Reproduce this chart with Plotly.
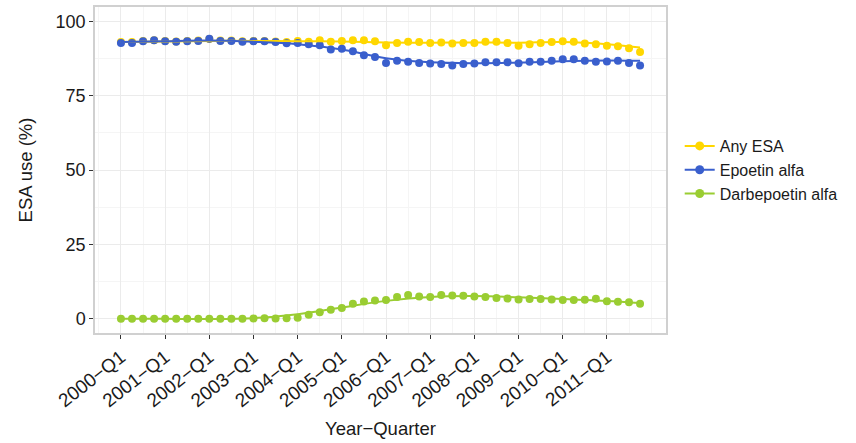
import plotly.graph_objects as go

years = list(range(2000, 2012))
quarters = [f"{y}\u2212Q{q}" for y in years for q in range(1, 5)]

any_esa = [93.0, 93.0, 93.4, 93.6, 93.4, 93.2, 93.4, 93.5, 94.0, 93.5,
           93.5, 93.3, 93.4, 93.4, 93.2, 93.0, 93.4, 93.1, 93.6, 93.1,
           93.4, 93.6, 93.6, 93.3, 91.9, 92.7, 93.1, 93.0, 92.7, 92.9,
           92.5, 92.7, 92.7, 93.1, 93.1, 92.7, 91.8, 92.3, 92.7, 93.0,
           93.3, 93.1, 92.5, 92.3, 91.8, 91.6, 90.9, 89.7]
epoetin = [92.7, 92.7, 93.3, 93.6, 93.3, 93.1, 93.3, 93.4, 94.1, 93.4,
           93.4, 93.1, 93.3, 93.3, 93.0, 92.6, 92.7, 92.3, 91.9, 90.5,
           90.8, 89.9, 88.6, 88.0, 86.0, 86.7, 86.4, 86.0, 85.8, 85.6,
           85.1, 85.6, 85.8, 86.2, 86.2, 86.2, 85.9, 86.4, 86.4, 86.7,
           87.2, 87.2, 86.7, 86.4, 86.5, 86.7, 86.0, 85.1]
darbepoetin = [0.0, 0.0, 0.0, 0.0, 0.0, 0.0, 0.0, 0.0, 0.0, 0.0,
               0.0, 0.0, 0.1, 0.2, 0.1, 0.2, 0.3, 1.3, 2.2, 3.0,
               3.6, 5.0, 5.8, 6.1, 6.3, 7.3, 8.0, 7.5, 7.3, 8.0,
               7.8, 7.7, 7.5, 7.3, 7.0, 6.8, 6.5, 6.6, 6.6, 6.5,
               6.3, 6.3, 6.4, 6.7, 5.9, 5.7, 5.5, 5.0]

# smoothed trend values read at yearly knots (quarter index)
smooth_idx = [0, 4, 8, 12, 16, 20, 24, 28, 32, 36, 40, 44, 47]
any_smooth = [93.0, 93.2, 93.4, 93.4, 93.3, 93.2, 92.9, 92.8, 92.9, 92.8, 93.0, 92.3, 91.2]
epo_smooth = [93.0, 93.3, 93.5, 93.1, 92.3, 90.5, 87.6, 86.2, 85.9, 86.1, 86.6, 86.8, 86.7]
darb_smooth = [0.0, 0.0, -0.1, 0.2, 1.5, 3.8, 6.0, 7.3, 7.6, 7.2, 6.6, 6.0, 5.3]

names = ["Any ESA", "Epoetin alfa", "Darbepoetin alfa"]
colors = ["#FFD700", "#3A5FCD", "#9ACD32"]
series = [any_esa, epoetin, darbepoetin]
smooths = [any_smooth, epo_smooth, darb_smooth]

x_idx = list(range(len(quarters)))
tick_pos = [i for i, q in enumerate(quarters) if q.endswith("Q1")]
tick_txt = [quarters[i] for i in tick_pos]

fig = go.Figure()
for name, col, ys in zip(names, colors, series):
    fig.add_trace(go.Scatter(x=x_idx, y=ys, mode="markers", name=name,
                             marker=dict(color=col, size=8), showlegend=False,
                             hovertext=quarters))
for name, col, ys in zip(names, colors, smooths):
    fig.add_trace(go.Scatter(x=smooth_idx, y=ys, mode="lines", name=name,
                             line=dict(color=col, width=2, shape="spline", smoothing=1.0),
                             showlegend=False))
for name, col in zip(names, colors):
    fig.add_trace(go.Scatter(x=[None], y=[None], mode="lines+markers", name=name,
                             line=dict(color=col, width=2),
                             marker=dict(color=col, size=9)))

fam = "Liberation Sans, Arial, sans-serif"
fig.update_layout(
    width=856, height=443,
    margin=dict(l=95, r=190, t=7, b=110, autoexpand=False),
    paper_bgcolor="white", plot_bgcolor="white",
    font=dict(family=fam, color="#1a1a1a"),
    legend=dict(x=1.024, y=0.5, xanchor="left", yanchor="middle",
                font=dict(size=16, color="#1a1a1a"), tracegroupgap=0,
                itemwidth=30, bgcolor="rgba(0,0,0,0)"),
    showlegend=True,
)
fig.update_xaxes(
    automargin=False,
    range=[-2.35, 49.35], tickmode="array", tickvals=tick_pos, ticktext=tick_txt,
    tickangle=-38, tickfont=dict(family=fam, size=19, color="#1a1a1a"),
    ticks="outside", ticklen=4, tickcolor="#333333",
    showgrid=True, gridcolor="#EBEBEB", gridwidth=1,
    minor=dict(dtick=2, tick0=0, showgrid=True, gridcolor="#F5F5F5", gridwidth=1, ticks=""),
    showline=True, mirror=True, linecolor="#D0D0D0", linewidth=1.5, zeroline=False,
    title=dict(text="Year\u2212Quarter", font=dict(size=18.5, color="#1a1a1a"), standoff=12),
)
fig.update_yaxes(
    automargin=False,
    range=[-4.8, 104.8], tickvals=[0, 25, 50, 75, 100],
    tickfont=dict(family=fam, size=18, color="#1a1a1a"),
    ticks="outside", ticklen=4, tickcolor="#333333",
    showgrid=True, gridcolor="#EBEBEB", gridwidth=1,
    minor=dict(tickvals=[12.5, 37.5, 62.5, 87.5], showgrid=True, gridcolor="#F5F5F5", gridwidth=1, ticks=""),
    showline=True, mirror=True, linecolor="#D0D0D0", linewidth=1.5, zeroline=False,
    title=dict(text="ESA use (%)", font=dict(size=18.5, color="#1a1a1a"), standoff=18),
)

fig.write_html("out.html", config={"displayModeBar": False},
               post_script="document.body.style.margin='0';")
